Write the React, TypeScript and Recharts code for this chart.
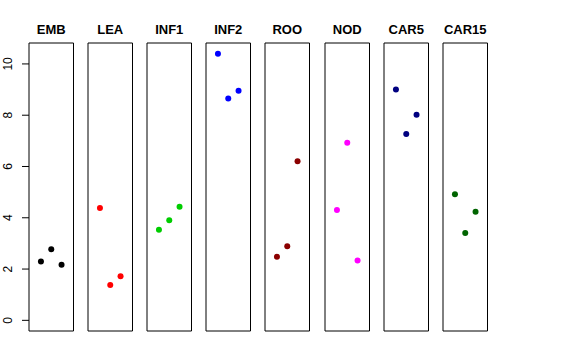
import { ScatterChart, Scatter, XAxis, YAxis, ReferenceArea } from 'recharts';

const panelNames = ['EMB', 'LEA', 'INF1', 'INF2', 'ROO', 'NOD', 'CAR5', 'CAR15'];
const panelColors = ['#000000', '#FF0000', '#00CD00', '#0000FF', '#8B0000', '#FF00FF', '#000080', '#006400'];

const embValues = [2.29, 2.77, 2.17];
const leaValues = [4.38, 1.38, 1.72];
const inf1Values = [3.53, 3.9, 4.43];
const inf2Values = [10.4, 8.65, 8.95];
const rooValues = [2.48, 2.89, 6.2];
const nodValues = [4.3, 6.93, 2.33];
const car5Values = [9.0, 7.27, 8.02];
const car15Values = [4.92, 3.41, 4.23];

const allValues = [embValues, leaValues, inf1Values, inf2Values, rooValues, nodValues, car5Values, car15Values];
const yTicks = [0, 2, 4, 6, 8, 10];

const FONT = '"Liberation Sans", Arial, Helvetica, sans-serif';
const X_DOMAIN: [number, number] = [-0.16, 4.16];
const Y_DOMAIN: [number, number] = [-0.416, 10.816];
const panelLefts = [29, 88, 147, 206, 265, 325, 384, 443];
const PANEL_W = 44.5;

const YTick = (props: any) => {
  const { x, y, payload } = props;
  const tx = x - 8;
  return (
    <text
      x={tx}
      y={y}
      transform={`rotate(-90, ${tx}, ${y})`}
      textAnchor="middle"
      fontSize={12}
      fontFamily={FONT}
      fill="#000"
    >
      {payload.value}
    </text>
  );
};

const Panel = ({ index }: { index: number }) => {
  const first = index === 0;
  const color = panelColors[index];
  const data = allValues[index].map((v, i) => ({ x: i + 1, y: v }));
  const yAxisW = 29;
  const width = first ? yAxisW + PANEL_W + 1 : PANEL_W + 2;
  const left = first ? 0 : panelLefts[index] - 1;
  return (
    <div style={{ position: 'absolute', left, top: 0 }}>
      <ScatterChart
        width={width}
        height={360}
        margin={{ top: 43, bottom: 29, left: first ? 0 : 1, right: 1 }}
      >
        <XAxis type="number" dataKey="x" domain={X_DOMAIN} allowDataOverflow hide />
        <YAxis
          type="number"
          dataKey="y"
          domain={Y_DOMAIN}
          allowDataOverflow
          hide={!first}
          width={yAxisW}
          ticks={yTicks}
          tick={<YTick />}
          tickSize={7}
          axisLine={false}
          tickLine={{ stroke: '#000' }}
          interval={0}
        />
        <ReferenceArea
          x1={X_DOMAIN[0]}
          x2={X_DOMAIN[1]}
          y1={Y_DOMAIN[0]}
          y2={Y_DOMAIN[1]}
          fill="none"
          stroke="#000"
          strokeWidth={1}
          fillOpacity={0}
          strokeOpacity={1}
          label={{
            value: panelNames[index],
            position: 'top',
            offset: 9,
            fill: '#000',
            fontSize: 13,
            fontWeight: 'bold',
            fontFamily: FONT,
          }}
        />
        <Scatter
          data={data}
          isAnimationActive={false}
          shape={(p: any) => <circle cx={p.cx} cy={p.cy} r={3} fill={color} />}
        />
      </ScatterChart>
    </div>
  );
};

export default function App() {
  return (
    <div style={{ position: 'absolute', left: 0, top: 0, width: 576, height: 360, background: '#fff' }}>
      {panelNames.map((_, i) => (
        <Panel key={i} index={i} />
      ))}
    </div>
  );
}
